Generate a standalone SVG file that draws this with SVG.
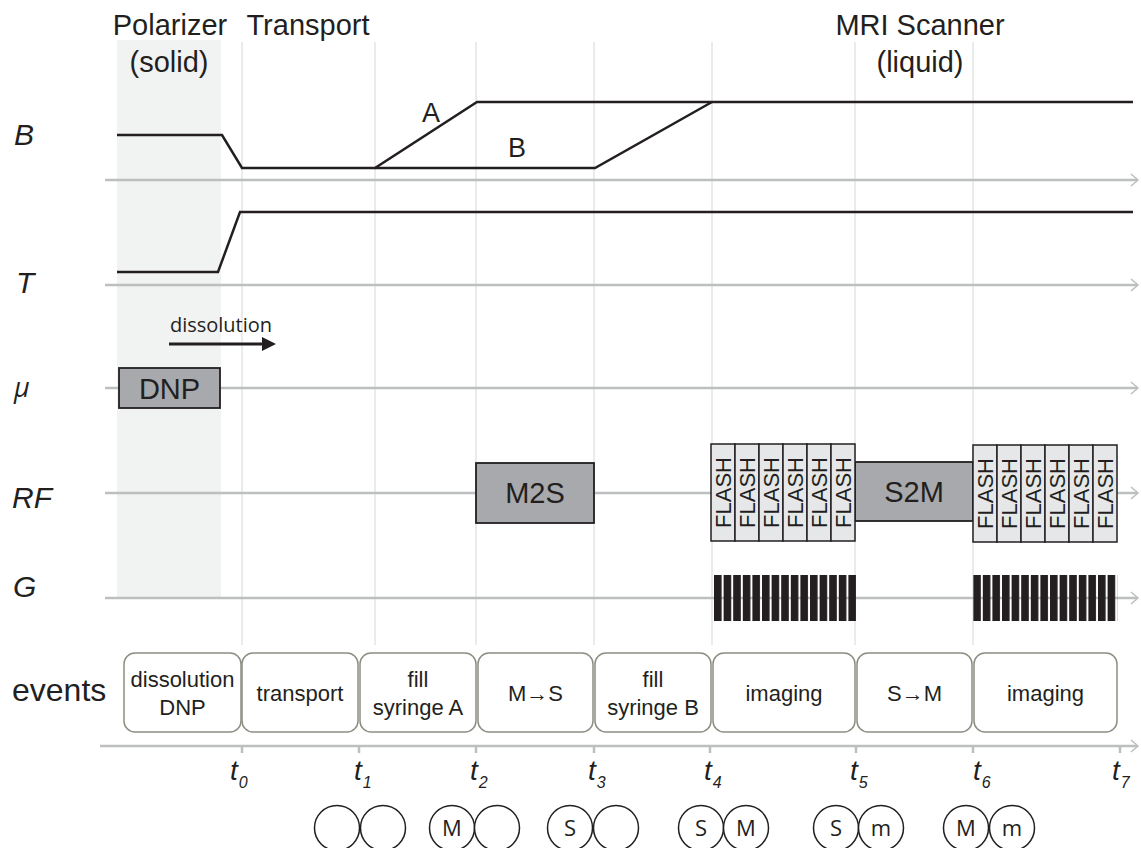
<svg xmlns="http://www.w3.org/2000/svg" width="1141" height="848" viewBox="0 0 1141 848">
<style>
.title{font-family:"Liberation Sans",Arial,sans-serif;font-size:29px;fill:#231f20;text-anchor:middle}
.lab{font-family:"Liberation Sans",Arial,sans-serif;font-size:30px;font-style:italic;fill:#231f20}
.grid{stroke:#e3e4e5;stroke-width:1.5;fill:none}
.axis{stroke:#bcbec0;stroke-width:2.5;fill:none}
.curve{stroke:#231f20;stroke-width:2.5;fill:none;stroke-linejoin:miter}
.blk{fill:#a7a9ac;stroke:#231f20;stroke-width:1.8}
.blkt{font-family:"Liberation Sans",Arial,sans-serif;font-size:29px;fill:#231f20;text-anchor:middle}
.fl{fill:#e6e7e8;stroke:#231f20;stroke-width:1.5}
.flt{font-family:"Liberation Sans",Arial,sans-serif;font-size:22px;fill:#231f20;text-anchor:middle}
.ev{fill:#fff;stroke:#8c8e82;stroke-width:1.5}
.evt{font-family:"Liberation Sans",Arial,sans-serif;font-size:22px;fill:#231f20;text-anchor:middle}
.tl{font-family:"Liberation Sans",Arial,sans-serif;font-size:28px;font-style:italic;fill:#231f20}
.sub{font-size:16px}
.circ{fill:#fff;stroke:#231f20;stroke-width:1.5}
.ct{font-family:"Open Sans","Noto Sans",sans-serif;font-size:22px;fill:#231f20;text-anchor:middle}
</style>
<defs>
<pattern id="gbars" x="714" y="0" width="9.6" height="848" patternUnits="userSpaceOnUse">
<rect x="0" y="0" width="7.6" height="848" fill="#231f20"/>
</pattern>
</defs>
<rect width="1141" height="848" fill="#fff"/>
<rect x="117" y="40" width="104" height="558" fill="#f1f2f2"/>
<g id="gridlines">
<line class="grid" x1="242" y1="42" x2="242" y2="645"/>
<line class="grid" x1="375" y1="42" x2="375" y2="645"/>
<line class="grid" x1="476" y1="42" x2="476" y2="645"/>
<line class="grid" x1="594" y1="42" x2="594" y2="645"/>
<line class="grid" x1="712" y1="42" x2="712" y2="645"/>
<line class="grid" x1="855" y1="42" x2="855" y2="645"/>
<line class="grid" x1="973" y1="42" x2="973" y2="645"/>
</g>
<g id="titles">
<text class="title" x="170" y="35">Polarizer</text>
<text class="title" x="169" y="72">(solid)</text>
<text class="title" x="308" y="35">Transport</text>
<text class="title" x="920" y="35">MRI Scanner</text>
<text class="title" x="920" y="72">(liquid)</text>
</g>
<g id="axis-labels">
<text class="lab" x="14" y="145">B</text>
<text class="lab" x="16" y="293">T</text>
<text class="lab" x="14" y="397" style="font-family:'Open Sans','Noto Sans',sans-serif;font-size:27px">μ</text>
<text class="lab" x="12" y="508">RF</text>
<text class="lab" x="13" y="597">G</text>
<text x="12" y="701" style="font-family:'Liberation Sans',Arial,sans-serif;font-size:32px;fill:#231f20">events</text>
</g>
<g id="axes">
<polyline class="axis" points="105,180 1137,180"/>
<polyline class="axis" points="1131,174 1138,180 1131,186" style="stroke-width:1.5"/>
<polyline class="axis" points="105,285 1137,285"/>
<polyline class="axis" points="1131,279 1138,285 1131,291" style="stroke-width:1.5"/>
<polyline class="axis" points="105,388 1137,388"/>
<polyline class="axis" points="1131,382 1138,388 1131,394" style="stroke-width:1.5"/>
<polyline class="axis" points="105,493 1137,493"/>
<polyline class="axis" points="1131,487 1138,493 1131,499" style="stroke-width:1.5"/>
<polyline class="axis" points="105,598 1137,598"/>
<polyline class="axis" points="1131,592 1138,598 1131,604" style="stroke-width:1.5"/>
<polyline class="axis" points="100,746 1137,746"/>
<polyline class="axis" points="1131,740 1138,746 1131,752" style="stroke-width:1.5"/>
<g style="stroke:#bcbec0;stroke-width:2.5">
<line x1="242" y1="746" x2="242" y2="753"/>
<line x1="359" y1="746" x2="359" y2="753"/>
<line x1="476" y1="746" x2="476" y2="753"/>
<line x1="594" y1="746" x2="594" y2="753"/>
<line x1="710" y1="746" x2="710" y2="753"/>
<line x1="856" y1="746" x2="856" y2="753"/>
<line x1="973" y1="746" x2="973" y2="753"/>
<line x1="1120" y1="746" x2="1120" y2="753"/>
</g>
</g>
<g id="connectors">
<polyline id="B-curve" class="curve" points="117,135 222,135 242,168 375,168 477,102 1133,102"/>
<polyline id="B-path" class="curve" points="375,168 595,168 712,102"/>
<polyline id="T-curve" class="curve" points="117,272 218,272 240,212 1133,212"/>
<line id="dissolution-arrow" x1="169" y1="344" x2="264" y2="344" stroke="#231f20" stroke-width="3"/>
<polygon points="262,337 276,344 262,351" fill="#231f20"/>
</g>
<g id="curve-labels">
<text x="431" y="122" style="font-family:'Liberation Sans',Arial,sans-serif;font-size:27px;fill:#231f20;text-anchor:middle">A</text>
<text x="517" y="157" style="font-family:'Liberation Sans',Arial,sans-serif;font-size:27px;fill:#231f20;text-anchor:middle">B</text>
<text x="221" y="332" style="font-family:'Open Sans','Noto Sans',sans-serif;font-size:20px;fill:#231f20;text-anchor:middle">dissolution</text>
</g>
<g id="DNP">
<rect class="blk" x="119" y="368" width="101" height="40"/>
<text class="blkt" x="169.5" y="399">DNP</text>
</g>
<g id="M2S">
<rect class="blk" x="476" y="463" width="118" height="60"/>
<text class="blkt" x="535" y="503">M2S</text>
</g>
<g id="S2M">
<rect class="blk" x="855" y="462" width="118" height="59"/>
<text class="blkt" x="914" y="502">S2M</text>
</g>
<g id="FLASH1">
<rect class="fl" x="711" y="444" width="24" height="97"/>
<rect class="fl" x="735" y="444" width="24" height="97"/>
<rect class="fl" x="759" y="444" width="24" height="97"/>
<rect class="fl" x="783" y="444" width="24" height="97"/>
<rect class="fl" x="807" y="444" width="24" height="97"/>
<rect class="fl" x="831" y="444" width="24" height="97"/>
<text class="flt" transform="translate(731,492.5) rotate(-90)">FLASH</text>
<text class="flt" transform="translate(755,492.5) rotate(-90)">FLASH</text>
<text class="flt" transform="translate(779,492.5) rotate(-90)">FLASH</text>
<text class="flt" transform="translate(803,492.5) rotate(-90)">FLASH</text>
<text class="flt" transform="translate(827,492.5) rotate(-90)">FLASH</text>
<text class="flt" transform="translate(851,492.5) rotate(-90)">FLASH</text>
</g>
<g id="FLASH2">
<rect class="fl" x="973" y="445" width="24" height="97"/>
<rect class="fl" x="997" y="445" width="24" height="97"/>
<rect class="fl" x="1021" y="445" width="24" height="97"/>
<rect class="fl" x="1045" y="445" width="24" height="97"/>
<rect class="fl" x="1069" y="445" width="24" height="97"/>
<rect class="fl" x="1093" y="445" width="24" height="97"/>
<text class="flt" transform="translate(993,493.5) rotate(-90)">FLASH</text>
<text class="flt" transform="translate(1017,493.5) rotate(-90)">FLASH</text>
<text class="flt" transform="translate(1041,493.5) rotate(-90)">FLASH</text>
<text class="flt" transform="translate(1065,493.5) rotate(-90)">FLASH</text>
<text class="flt" transform="translate(1089,493.5) rotate(-90)">FLASH</text>
<text class="flt" transform="translate(1113,493.5) rotate(-90)">FLASH</text>
</g>
<g id="G1"><rect x="714" y="575" width="142" height="46" fill="url(#gbars)"/></g>
<g id="G2"><rect x="973.2" y="575" width="144" height="46" fill="url(#gbars)"/></g>
<g id="events">
<g id="ev-dissolution"><rect class="ev" x="124" y="653" width="117" height="79" rx="11"/><text class="evt" x="182.5" y="687">dissolution</text><text class="evt" x="182.5" y="715">DNP</text></g>
<g id="ev-transport"><rect class="ev" x="242" y="653" width="116" height="79" rx="11"/><text class="evt" x="300" y="701">transport</text></g>
<g id="ev-fillA"><rect class="ev" x="360" y="653" width="116" height="79" rx="11"/><text class="evt" x="418" y="687">fill</text><text class="evt" x="418" y="715">syringe A</text></g>
<g id="ev-MS"><rect class="ev" x="478" y="653" width="115" height="79" rx="11"/><text class="evt" x="535.5" y="701">M→S</text></g>
<g id="ev-fillB"><rect class="ev" x="595" y="653" width="116" height="79" rx="11"/><text class="evt" x="653" y="687">fill</text><text class="evt" x="653" y="715">syringe B</text></g>
<g id="ev-imaging1"><rect class="ev" x="713" y="653" width="142" height="79" rx="11"/><text class="evt" x="784" y="701">imaging</text></g>
<g id="ev-SM"><rect class="ev" x="857" y="653" width="115" height="79" rx="11"/><text class="evt" x="914.5" y="701">S→M</text></g>
<g id="ev-imaging2"><rect class="ev" x="974" y="653" width="143" height="79" rx="11"/><text class="evt" x="1045.5" y="701">imaging</text></g>
</g>
<g id="time-labels">
<text class="tl" x="230" y="780">t<tspan class="sub" dx="1" dy="8">0</tspan></text>
<text class="tl" x="354" y="780">t<tspan class="sub" dx="1" dy="8">1</tspan></text>
<text class="tl" x="470" y="780">t<tspan class="sub" dx="1" dy="8">2</tspan></text>
<text class="tl" x="588" y="780">t<tspan class="sub" dx="1" dy="8">3</tspan></text>
<text class="tl" x="704" y="780">t<tspan class="sub" dx="1" dy="8">4</tspan></text>
<text class="tl" x="850" y="780">t<tspan class="sub" dx="1" dy="8">5</tspan></text>
<text class="tl" x="973" y="780">t<tspan class="sub" dx="1" dy="8">6</tspan></text>
<text class="tl" x="1112" y="780">t<tspan class="sub" dx="1" dy="8">7</tspan></text>
</g>
<g id="syringes-t1"><circle class="circ" cx="337" cy="828" r="22.5"/><circle class="circ" cx="383" cy="828" r="22.5"/></g>
<g id="syringes-t2"><circle class="circ" cx="452" cy="828" r="22.5"/><circle class="circ" cx="497" cy="828" r="22.5"/><text class="ct" x="452" y="836">M</text></g>
<g id="syringes-t3"><circle class="circ" cx="570" cy="828" r="22.5"/><circle class="circ" cx="616" cy="828" r="22.5"/><text class="ct" x="570" y="836">S</text></g>
<g id="syringes-t4"><circle class="circ" cx="701" cy="828" r="22.5"/><circle class="circ" cx="746" cy="828" r="22.5"/><text class="ct" x="701" y="836">S</text><text class="ct" x="746" y="836">M</text></g>
<g id="syringes-t5"><circle class="circ" cx="836" cy="828" r="22.5"/><circle class="circ" cx="881" cy="828" r="22.5"/><text class="ct" x="836" y="836">S</text><text class="ct" x="881" y="836">m</text></g>
<g id="syringes-t6"><circle class="circ" cx="966" cy="828" r="22.5"/><circle class="circ" cx="1012" cy="828" r="22.5"/><text class="ct" x="966" y="836">M</text><text class="ct" x="1012" y="836">m</text></g>
</svg>
